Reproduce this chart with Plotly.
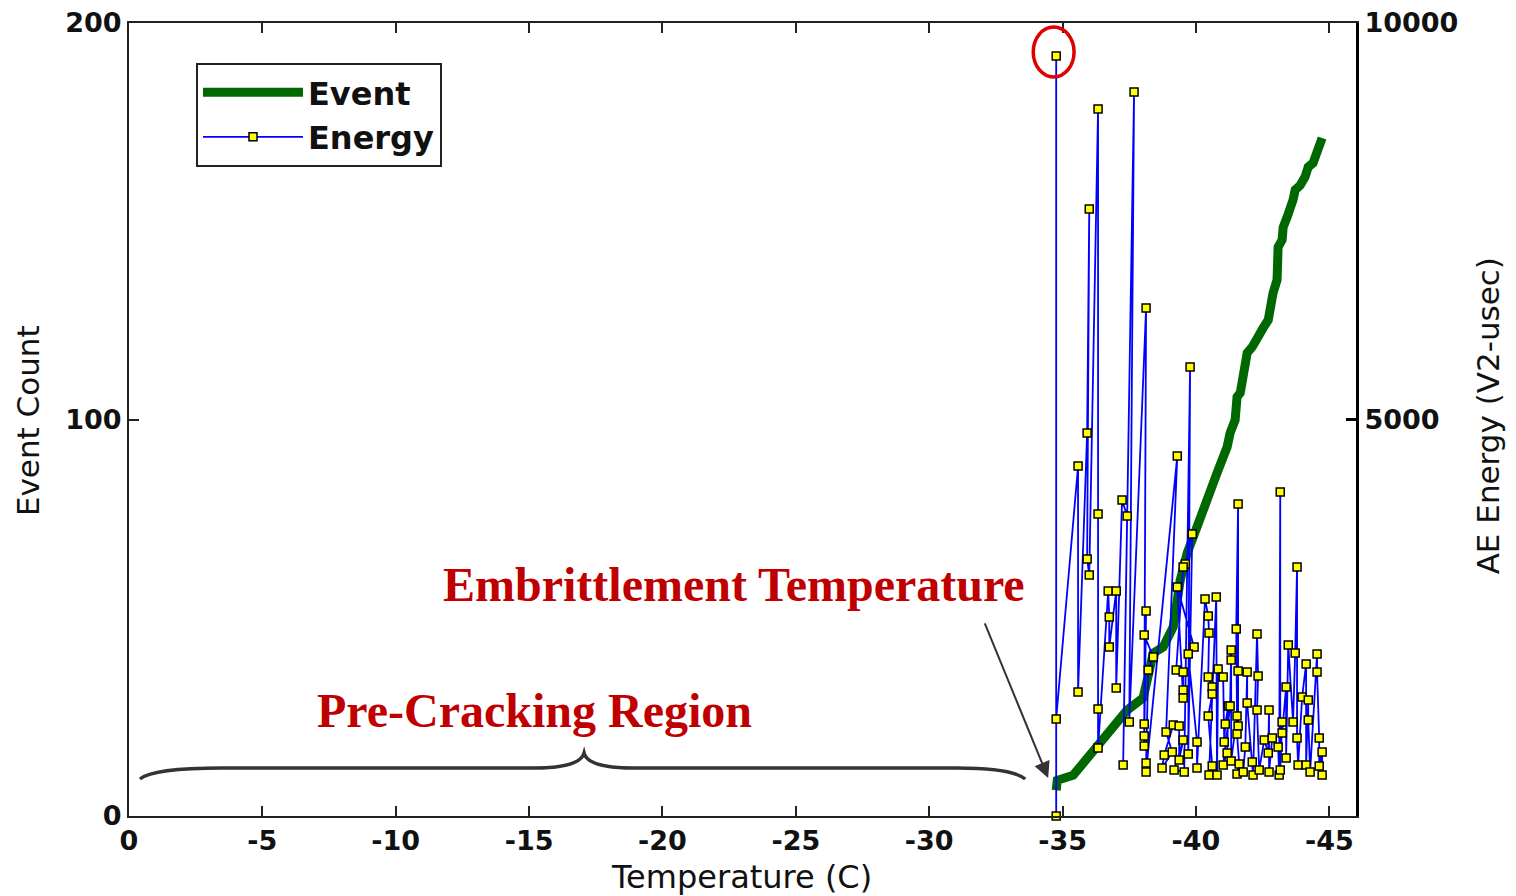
import plotly.graph_objects as go

# ---------------- data ----------------
# Cumulative AE event count vs temperature
event_temp = [-34.76, -34.80, -35.40, -35.77, -36.29, -36.78, -37.42, -38.02, -38.28, -38.40,
              -38.77, -39.15, -39.41, -39.67, -40.04, -40.42, -40.79, -41.17, -41.28, -41.47,
              -41.54, -41.66, -41.73, -41.85, -41.92, -42.11, -42.29, -42.52, -42.71, -42.78,
              -42.89, -43.04, -43.04, -43.08, -43.23, -43.27, -43.42, -43.53, -43.64, -43.72,
              -43.91, -44.09, -44.21, -44.39, -44.54, -44.66, -44.73]
event_count = [6.5, 9.0, 10.3, 13.4, 17.4, 21.7, 26.7, 29.8, 37.6, 41.1,
               42.6, 47.7, 59.5, 66.3, 72.9, 80.4, 86.5, 93.1, 96.6, 99.9,
               105.7, 106.7, 110.0, 113.2, 116.8, 118.3, 120.8, 123.1, 125.1, 128.4,
               131.9, 135.2, 140.2, 143.5, 145.3, 148.5, 151.1, 152.8, 155.4, 157.9,
               159.1, 161.2, 163.7, 164.7, 167.2, 168.7, 171.0]

# AE energy per hit (time ordered)
energy_temp = [-34.76, -34.76, -34.76, -35.58, -35.58, -35.92, -36.00, -35.92, -36.00, -36.33,
               -36.33, -36.33, -36.33, -36.71, -36.75, -36.75, -37.01, -37.01, -37.23, -37.42,
               -37.27, -37.68, -37.50, -38.13, -38.06, -38.06, -38.06, -38.13, -38.06, -38.40,
               -38.21, -38.13, -38.13, -39.30, -38.88, -39.11, -38.73, -38.81, -39.15, -39.37,
               -39.37, -39.52, -39.18, -39.56, -39.78, -39.71, -39.86, -39.60, -39.52, -39.26,
               -39.52, -39.52, -39.52, -39.30, -39.93, -39.71, -40.04, -40.04, -40.34, -40.46,
               -40.49, -40.46, -40.61, -40.61, -40.46, -40.61, -40.49, -40.76, -40.79, -40.83,
               -41.02, -41.06, -41.10, -41.21, -41.17, -41.02, -41.28, -41.32, -41.32, -41.32,
               -41.54, -41.51, -41.58, -41.58, -41.58, -41.54, -41.62, -41.54, -41.77, -41.85,
               -41.92, -41.92, -42.11, -42.14, -42.29, -42.33, -42.29, -42.37, -42.56, -42.71,
               -42.74, -42.74, -42.86, -43.08, -43.12, -43.16, -43.16, -43.23, -43.23, -43.38,
               -43.38, -43.46, -43.64, -43.72, -43.79, -43.79, -43.83, -43.98, -44.13, -44.13,
               -44.21, -44.21, -44.28, -44.54, -44.54, -44.62, -44.62, -44.73, -44.73]
energy_value = [0, 9584, 1223, 4414, 1564, 4830, 7654, 3241, 3039, 8915,
                3808, 1349, 857, 2837, 2509, 2131, 2837, 1614, 3985, 3783,
                643, 9130, 1185, 6406, 1160, 1009, 883, 2585, 2282, 2005,
                1841, 668, 555, 4540, 1059, 807, 605, 769, 1148, 1135,
                706, 958, 580, 555, 5662, 782, 3556, 3178, 3140, 1841,
                1816, 1589, 1488, 2888, 2131, 2043, 933, 605, 2736, 2522,
                2308, 1753, 1627, 1538, 1261, 631, 517, 2762, 517, 1854,
                1753, 933, 1160, 1387, 794, 643, 1387, 2093, 1967, 694,
                1261, 2358, 3934, 1828, 1135, 1034, 656, 530, 555, 870,
                1816, 1425, 681, 517, 2295, 1765, 1337, 580, 958, 794,
                1337, 555, 984, 870, 517, 4086, 580, 1185, 1047, 1627,
                731, 2156, 1185, 2055, 3140, 984, 643, 1501, 1917, 643,
                1463, 1211, 555, 2043, 1816, 984, 631, 807, 517]

x_tickvals = [0, -5, -10, -15, -20, -25, -30, -35, -40, -45]
x_ticktext = ["0", "-5", "-10", "-15", "-20", "-25", "-30", "-35", "-40", "-45"]
y_tickvals = [0, 100, 200]
y_ticktext = ["0", "100", "200"]
y2_tickvals = [5000, 10000]
y2_ticktext = ["5000", "10000"]

# ---------------- figure ----------------
TICKFONT = dict(family="DejaVu Sans", size=27, color="#111111", weight="bold")
TITLEFONT = dict(family="DejaVu Sans", size=31, color="#111111")
RED = dict(family="Liberation Serif", size=48, color="#C00000", weight="bold")

fig = go.Figure()
fig.add_trace(go.Scatter(
    x=event_temp, y=event_count, name="Event", mode="lines",
    line=dict(color="#006800", width=9), yaxis="y"))
fig.add_trace(go.Scatter(
    x=energy_temp, y=energy_value, name="Energy", mode="lines+markers",
    line=dict(color="#0000FF", width=1.8),
    marker=dict(symbol="square", size=8, color="#FFFF00",
                line=dict(color="#000000", width=1.5)),
    yaxis="y2", cliponaxis=False))

fig.update_layout(
    width=1516, height=896,
    margin=dict(l=129, r=160, t=23, b=80, autoexpand=False),
    paper_bgcolor="white", plot_bgcolor="white",
    showlegend=True,
    legend=dict(x=0.0546, y=0.9496, xanchor="left", yanchor="top",
                bgcolor="white", bordercolor="#222222", borderwidth=2,
                font=dict(family="DejaVu Sans", size=32, color="#111111", weight="bold"),
                itemwidth=100, tracegroupgap=0),
    xaxis=dict(range=[0, -46], tickvals=x_tickvals, ticktext=x_ticktext,
               ticks="inside", ticklen=10, tickwidth=2, tickcolor="#222222",
               showline=True, linecolor="#222222", linewidth=2, mirror="ticks",
               showgrid=False, zeroline=False, tickfont=TICKFONT),
    yaxis=dict(range=[0, 200], tickvals=y_tickvals, ticktext=y_ticktext,
               ticks="inside", ticklen=10, tickwidth=2, tickcolor="#222222",
               showline=True, linecolor="#222222", linewidth=2,
               showgrid=False, zeroline=False, tickfont=TICKFONT),
    yaxis2=dict(range=[0, 10000], tickvals=y2_tickvals, ticktext=y2_ticktext,
                overlaying="y", side="right",
                ticks="inside", ticklen=10, tickwidth=3, tickcolor="#000000",
                showline=True, linecolor="#000000", linewidth=3,
                showgrid=False, zeroline=False, tickfont=TICKFONT),
)

CENTER = dict(xanchor="center", yanchor="middle", showarrow=False)
# axis titles
fig.add_annotation(text="Event Count", xref="paper", yref="paper", x=-0.0823, y=0.498,
                   textangle=-90, font=TITLEFONT, **CENTER)
fig.add_annotation(text="AE Energy (V2-usec)", xref="paper", yref="paper", x=1.1076, y=0.504,
                   textangle=-90, font=TITLEFONT, **CENTER)
fig.add_annotation(text="Temperature (C)", xref="paper", yref="paper", x=0.4988, y=-0.0769,
                   font=dict(family="DejaVu Sans", size=32, color="#111111"), **CENTER)

# red annotations
fig.add_annotation(text="Embrittlement Temperature", xref="x", yref="y", x=-22.68, y=58.5,
                   font=RED, **CENTER)
fig.add_annotation(text="Pre-Cracking Region", xref="x", yref="y", x=-15.22, y=26.5,
                   font=RED, **CENTER)
# arrow
fig.add_annotation(text="", xref="x", yref="y", x=-34.46, y=9.6, ax=-64, ay=-156,
                   showarrow=True, arrowhead=2, arrowsize=1.6, arrowwidth=2, arrowcolor="#333333")
# curly brace
fig.add_shape(type="path", xref="x", yref="y",
              path="M -0.41,9.33 Q -0.9,12.1 -3.49,12.1 L -15.2,12.1 Q -16.9,12.1 -17.06,15.9 "
                   "Q -17.2,12.1 -18.9,12.1 L -31.05,12.1 Q -33.1,12.1 -33.6,9.33",
              line=dict(color="#333333", width=3.5))
# red circle around peak
fig.add_shape(type="circle", xref="x", yref="y", x0=-33.90, x1=-35.43, y0=186.4, y1=199.0,
              line=dict(color="#E00000", width=3.5))

fig.write_html("out.html")
